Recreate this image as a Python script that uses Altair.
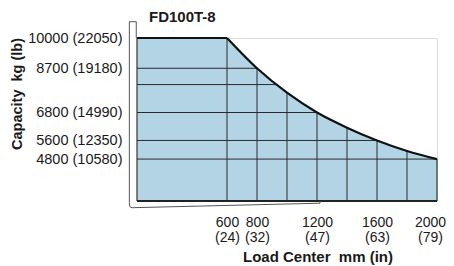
import altair as alt
import pandas as pd

# ---- data ----
load_mm = [0, 600, 800, 1000, 1200, 1400, 1600, 1800, 2000]
capacity_kg = [10000, 10000, 8700, 7650, 6800, 6150, 5600, 5150, 4800]

tick_kg = [10000, 8700, 6800, 5600, 4800]
tick_lb = [22050, 19180, 14990, 12350, 10580]
tick_mm = [600, 800, 1200, 1600, 2000]
tick_in = [24, 32, 47, 63, 79]

grid_x = [600, 800, 1000, 1200, 1400, 1600, 1800]
grid_y = [8700, 8000, 6800, 5600, 4800]
grid_y_end = [800, 925, 1200, 1600, 2000]

floor_kg = 3000

# decorative fork outline (in data units)
fork_x = [-5, -5, -51, -51, -49.5, -43, -32, 1220, 1220]
fork_y = [10000, 10700, 10700, 2930, 2790, 2728, 2712, 2905, 3000]

FONT = "Liberation Sans"
FILL = "#B3D4E4"
INK = "#1a1a1a"

flat = pd.DataFrame({"x": load_mm[:2], "y": capacity_kg[:2], "y2": [floor_kg] * 2})
curve = pd.DataFrame({"x": load_mm[1:], "y": capacity_kg[1:], "y2": [floor_kg] * (len(load_mm) - 1)})
vgrid = pd.DataFrame({"x": grid_x, "y": [floor_kg] * len(grid_x),
                      "y2": [capacity_kg[load_mm.index(g)] for g in grid_x]})
hgrid = pd.DataFrame({"x": [0] * len(grid_y), "x2": grid_y_end, "y": grid_y})
edges_v = pd.DataFrame({"x": [0, 2000], "y": [floor_kg, floor_kg], "y2": [capacity_kg[0], capacity_kg[-1]]})
edge_b = pd.DataFrame({"x": [0], "x2": [2000], "y": [floor_kg]})
fork = pd.DataFrame({"x": fork_x, "y": fork_y, "i": list(range(len(fork_x)))})

ylab = " : ".join(f"datum.value == {k} ? '{k} ({l})'" for k, l in zip(tick_kg, tick_lb)) + " : ''"
xlab = " : ".join(f"datum.value == {m} ? ['{m}', '({i})']" for m, i in zip(tick_mm, tick_in)) + " : ''"

xs = alt.Scale(domain=[0, 2000], nice=False, zero=False)
ys = alt.Scale(domain=[floor_kg, 10000], nice=False, zero=False)

xaxis = alt.Axis(values=tick_mm, labelExpr=xlab, ticks=False, domain=False, grid=False,
                 labelFont=FONT, labelFontSize=14, labelColor=INK, labelPadding=14,
                 labelLineHeight=15, labelFlush=False, labelOverlap=False,
                 labelOffset={"condition": {"test": f"datum.value == {tick_mm[-1]}", "value": -7}, "value": 0},
                 title="Load Center\u00a0 mm (in)", titleFont=FONT, titleFontSize=15,
                 titleFontWeight="bold", titleColor=INK, titleX=180.5, titleY=55,
                 titleAlign="center", titleBaseline="middle")
yaxis = alt.Axis(values=tick_kg, labelExpr=ylab, ticks=False, domain=False, grid=False,
                 labelFont=FONT, labelFontSize=14.5, labelColor=INK, labelPadding=15,
                 labelOverlap=False, labelFlush=False,
                 title="Capacity\u00a0 kg (lb)", titleFont=FONT, titleFontSize=14.5,
                 titleFontWeight="bold", titleColor=INK, titleX=-120, titleY=55.5,
                 titleAlign="center", titleBaseline="middle", titleAngle=270)


def X(field="x"):
    return alt.X(f"{field}:Q", scale=xs, axis=xaxis)


def Y(field="y"):
    return alt.Y(f"{field}:Q", scale=ys, axis=yaxis)


area_flat = alt.Chart(flat).mark_area(color=FILL, interpolate="linear").encode(
    x=X(), y=Y(), y2="y2:Q")
area_curve = alt.Chart(curve).mark_area(color=FILL, interpolate="monotone").encode(
    x=X(), y=Y(), y2="y2:Q")
vrules = alt.Chart(vgrid).mark_rule(color="#2a2a2a", strokeWidth=1).encode(
    x=X(), y=Y(), y2="y2:Q")
hrules = alt.Chart(hgrid).mark_rule(color="#2a2a2a", strokeWidth=1).encode(
    x=X(), x2="x2:Q", y=Y())
evrules = alt.Chart(edges_v).mark_rule(color="#333333", strokeWidth=1.2).encode(
    x=X(), y=Y(), y2="y2:Q")
ebrule = alt.Chart(edge_b).mark_rule(color="#222222", strokeWidth=1.8).encode(
    x=X(), x2="x2:Q", y=Y())
top_flat = alt.Chart(flat).mark_line(color="#111111", strokeWidth=2.2, interpolate="linear").encode(
    x=X(), y=Y())
top_curve = alt.Chart(curve).mark_line(color="#111111", strokeWidth=2.2, interpolate="monotone").encode(
    x=X(), y=Y())
fork_line = alt.Chart(fork).mark_line(color="#555555", strokeWidth=1, interpolate="linear").encode(
    x=X(), y=Y(), order="i:Q")

chart = alt.layer(
    area_flat, area_curve, vrules, hrules, evrules, ebrule, top_flat, top_curve, fork_line
).properties(
    width=300, height=163,
    title=alt.TitleParams("FD100T-8", anchor="start", frame="group", dx=12, dy=7,
                          fontSize=15, font=FONT, fontWeight="bold", color=INK, offset=2),
    autosize=alt.AutoSizeParams(type="none"),
    padding={"left": 129, "top": 30, "right": 9, "bottom": 65},
).configure_view(stroke=None).configure(background="white")

chart.save("out.html", embed_options={"renderer": "svg", "actions": False})
